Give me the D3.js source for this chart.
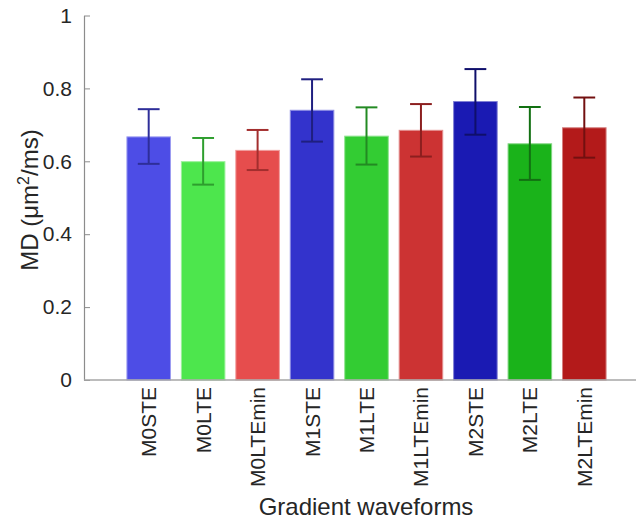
<!DOCTYPE html>
<html>
<head>
<meta charset="utf-8">
<script src="https://cdn.jsdelivr.net/npm/d3@7"></script>
<style>
  body { margin: 0; background: #fff; }
  text { font-family: "Liberation Sans", Arial, sans-serif; fill: #262626; }
</style>
</head>
<body>
<svg id="chart" width="636" height="521"></svg>
<script>
// chart data
var categories = ['M0STE', 'M0LTE', 'M0LTEmin', 'M1STE', 'M1LTE', 'M1LTEmin', 'M2STE', 'M2LTE', 'M2LTEmin'];
var meanMD = [0.667, 0.599, 0.630, 0.740, 0.669, 0.685, 0.764, 0.648, 0.692];
var errHigh = [0.743, 0.664, 0.686, 0.825, 0.748, 0.757, 0.853, 0.749, 0.775];
var errLow = [0.593, 0.536, 0.576, 0.654, 0.591, 0.613, 0.673, 0.549, 0.610];
var barColors = ['#4d4de6', '#4de64d', '#e64d4d', '#3333cc', '#33cc33', '#cc3333', '#1a1ab3', '#1ab31a', '#b31a1a'];
var errColors = ['#2e2e99', '#2e9e2e', '#a32e2e', '#1f1f80', '#238a23', '#8c1f1f', '#0f0f6b', '#127012', '#731010'];
var yTicks = [0, 0.2, 0.4, 0.6, 0.8, 1];

(function () {
  'use strict';

  var svg = d3.select('#chart');
  var left = 84, right = 636, top = 15.5, bottom = 380;

  var x = d3.scaleLinear().domain([1, 9]).range([148.7, 584.3]);
  var y = d3.scaleLinear().domain([0, 1]).range([bottom, top]);
  var step = x(2) - x(1);
  var barW = step * 0.8;
  var capW = barW * 0.5;

  var rows = categories.map(function (c, i) {
    return { name: c, i: i + 1, v: meanMD[i], hi: errHigh[i], lo: errLow[i], fill: barColors[i], ec: errColors[i] };
  });

  // bars
  svg.append('g').selectAll('rect')
    .data(rows)
    .enter().append('rect')
    .attr('x', function (d) { return x(d.i) - barW / 2; })
    .attr('y', function (d) { return y(d.v); })
    .attr('width', barW)
    .attr('height', function (d) { return y(0) - y(d.v); })
    .attr('fill', function (d) { return d.fill; })
    .attr('stroke', function (d) { return d3.interpolateRgb(d.fill, '#ffffff')(0.45); })
    .attr('stroke-width', 1);

  // error bars
  var eb = svg.append('g').selectAll('g')
    .data(rows)
    .enter().append('g')
    .attr('stroke', function (d) { return d.ec; })
    .attr('stroke-width', 2)
    .attr('fill', 'none');
  eb.append('line')
    .attr('x1', function (d) { return x(d.i); })
    .attr('x2', function (d) { return x(d.i); })
    .attr('y1', function (d) { return y(d.lo); })
    .attr('y2', function (d) { return y(d.hi); });
  eb.append('line')
    .attr('x1', function (d) { return x(d.i) - capW / 2; })
    .attr('x2', function (d) { return x(d.i) + capW / 2; })
    .attr('y1', function (d) { return y(d.hi); })
    .attr('y2', function (d) { return y(d.hi); });
  eb.append('line')
    .attr('x1', function (d) { return x(d.i) - capW / 2; })
    .attr('x2', function (d) { return x(d.i) + capW / 2; })
    .attr('y1', function (d) { return y(d.lo); })
    .attr('y2', function (d) { return y(d.lo); });

  // y axis, ticks pointing inward
  var yAxis = svg.append('g')
    .attr('transform', 'translate(' + left + ',0)')
    .call(d3.axisLeft(y).tickValues(yTicks).tickSizeInner(-6).tickSizeOuter(0).tickPadding(12)
      .tickFormat(function (d) { return d === 0 || d === 1 ? String(d) : d3.format('.1f')(d); }));
  yAxis.select('.domain').attr('stroke', '#8c8c8c').attr('stroke-width', 1.2);
  yAxis.selectAll('.tick line').attr('stroke', '#8c8c8c');
  yAxis.selectAll('.tick text').attr('font-size', 21).attr('fill', '#262626')
    .attr('font-family', '"Liberation Sans", Arial, sans-serif');

  // x axis line
  svg.append('line')
    .attr('x1', left).attr('x2', right)
    .attr('y1', bottom).attr('y2', bottom)
    .attr('stroke', '#a6a6a6').attr('stroke-width', 1.5);

  // rotated category labels
  svg.append('g').selectAll('text')
    .data(rows)
    .enter().append('text')
    .attr('transform', function (d) { return 'translate(' + (x(d.i) + 7.5) + ',' + (bottom + 7) + ') rotate(-90)'; })
    .attr('text-anchor', 'end')
    .attr('font-size', 21)
    .text(function (d) { return d.name; });

  // axis titles
  svg.append('text')
    .attr('x', 366).attr('y', 515)
    .attr('text-anchor', 'middle')
    .attr('font-size', 24)
    .text('Gradient waveforms');

  var yl = svg.append('text')
    .attr('transform', 'translate(38,200) rotate(-90)')
    .attr('text-anchor', 'middle')
    .attr('font-size', 24);
  yl.append('tspan').text('MD (\u03bcm');
  yl.append('tspan').attr('font-size', 16).attr('dy', -9).text('2');
  yl.append('tspan').attr('dy', 9).text('/ms)');
})();
</script>
</body>
</html>
